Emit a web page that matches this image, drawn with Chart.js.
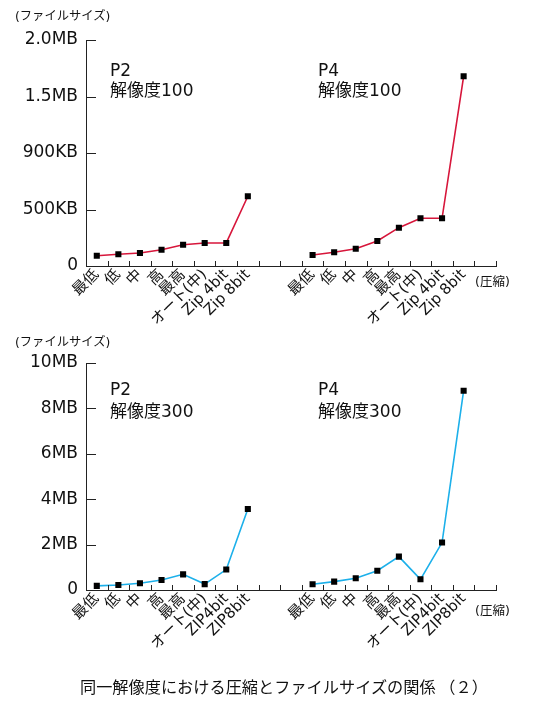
<!DOCTYPE html>
<html><head><meta charset="utf-8">
<script src="https://cdn.jsdelivr.net/npm/chart.js@4/dist/chart.umd.min.js"></script>
<style>
body{margin:0;background:#fff;width:538px;height:719px;position:relative;overflow:hidden;font-family:"DejaVu Sans","Noto Sans CJK JP",sans-serif;color:#111}
canvas{position:absolute;left:0}
.t{position:absolute;white-space:nowrap;line-height:1}
.j{font-family:"Noto Sans CJK JP",sans-serif}
</style></head><body>
<canvas id="c1" width="538" height="345" style="top:0"></canvas>
<canvas id="c2" width="538" height="345" style="top:320px"></canvas>

<div class="t" style="left:15px;top:10px;font-size:12.3px">(ファイルサイズ)</div>
<div class="t" style="left:110px;top:62px;font-size:17px">P2</div>
<div class="t" style="left:110px;top:82px;font-size:17px">解像度100</div>
<div class="t" style="left:318px;top:62px;font-size:17px">P4</div>
<div class="t" style="left:318px;top:82px;font-size:17px">解像度100</div>
<div class="t" style="left:475px;top:276px;font-size:12.5px">(圧縮)</div>

<div class="t" style="left:15px;top:336px;font-size:12.3px">(ファイルサイズ)</div>
<div class="t" style="left:110px;top:381px;font-size:17px">P2</div>
<div class="t" style="left:110px;top:403px;font-size:17px">解像度300</div>
<div class="t" style="left:318px;top:381px;font-size:17px">P4</div>
<div class="t" style="left:318px;top:403px;font-size:17px">解像度300</div>
<div class="t" style="left:475px;top:605px;font-size:12.5px">(圧縮)</div>

<div class="t j" style="left:80px;top:678px;font-size:16.2px">同一解像度における圧縮とファイルサイズの関係 （２）</div>

<script>
// ---- data (values in MB) ----
const categoriesRes100 = ['最低','低','中','高','最高','オート(中)','Zip 4bit','Zip 8bit'];
const categoriesRes300 = ['最低','低','中','高','最高','オート(中)','ZIP4bit','ZIP8bit'];
const p2Res100 = [0.091, 0.104, 0.115, 0.144, 0.188, 0.204, 0.204, 0.617];
const p4Res100 = [0.097, 0.121, 0.153, 0.221, 0.339, 0.422, 0.422, 1.679];
const p2Res300 = [0.18, 0.22, 0.30, 0.44, 0.69, 0.26, 0.90, 3.57];
const p4Res300 = [0.25, 0.37, 0.52, 0.85, 1.47, 0.47, 2.09, 8.78];
const yTickLabelsRes100 = ['0','500KB','900KB','1.5MB','2.0MB'];
const yTickLabelsRes300 = ['0','2MB','4MB','6MB','8MB','10MB'];

const inwardTicks = {
  id: 'inwardTicks',
  afterDraw(chart) {
    const ctx = chart.ctx, xs = chart.scales.x, ys = chart.scales.y, a = chart.chartArea;
    ctx.save();
    ctx.strokeStyle = '#222';
    ctx.lineWidth = 1;
    ctx.beginPath();
    const n = xs.getLabels().length;
    for (let i = 1; i <= n; i++) {
      const px = Math.round((xs.getPixelForValue(i - 1) + xs.getPixelForValue(i)) / 2) + 0.5;
      ctx.moveTo(px, a.bottom);
      ctx.lineTo(px, a.bottom - 5);
    }
    ys.ticks.forEach(t => {
      const py = Math.round(ys.getPixelForValue(t.value)) + 0.5;
      ctx.moveTo(a.left, py);
      ctx.lineTo(a.left + 10, py);
    });
    ctx.stroke();
    ctx.restore();
  }
};

function makeChart(id, cats, p2, p4, color, yMax, yStep, yLabels, topPad, xHeight) {
  const labels = [...cats, '', '', ...cats, ''];
  const data2 = [...p2, null, null, null, null, null, null, null, null, null, null, null];
  const data4 = [null, null, null, null, null, null, null, null, null, null, ...p4, null];
  const ds = d => ({
    data: d, borderColor: color, borderWidth: 1.6, tension: 0,
    pointStyle: 'rect', pointRadius: 4.3, pointBackgroundColor: '#000',
    pointBorderWidth: 0, spanGaps: false
  });
  return new Chart(document.getElementById(id), {
    type: 'line',
    data: { labels, datasets: [ds(data2), ds(data4)] },
    options: {
      responsive: false, animation: false, devicePixelRatio: 1,
      layout: { padding: { left: 0, top: topPad, right: 42, bottom: 0 } },
      plugins: { legend: { display: false }, tooltip: { enabled: false } },
      scales: {
        x: {
          type: 'category', offset: true,
          grid: { display: true, drawOnChartArea: false, drawTicks: false },
          border: { display: true, color: '#222', width: 1 },
          ticks: { autoSkip: false, minRotation: 45, maxRotation: 45, padding: 0, color: '#111',
                   font: { family: '"DejaVu Sans","Noto Sans CJK JP"', size: 15 } },
          afterFit(s) { s.height = xHeight; }
        },
        y: {
          min: 0, max: yMax,
          grid: { display: true, drawOnChartArea: false, drawTicks: false },
          border: { display: true, color: '#222', width: 1 },
          ticks: { stepSize: yStep, padding: 8, color: '#111',
                   font: { family: '"DejaVu Sans"', size: 17 },
                   callback: (v) => yLabels[Math.round(v / yStep)] },
          afterFit(s) { s.width = 86; }
        }
      }
    },
    plugins: [inwardTicks]
  });
}

makeChart('c1', categoriesRes100, p2Res100, p4Res100, '#d7163b', 2, 0.5, yTickLabelsRes100, 40, 79);
makeChart('c2', categoriesRes300, p2Res300, p4Res300, '#1cb0ea', 10, 2, yTickLabelsRes300, 43, 75);
</script>
</body></html>
